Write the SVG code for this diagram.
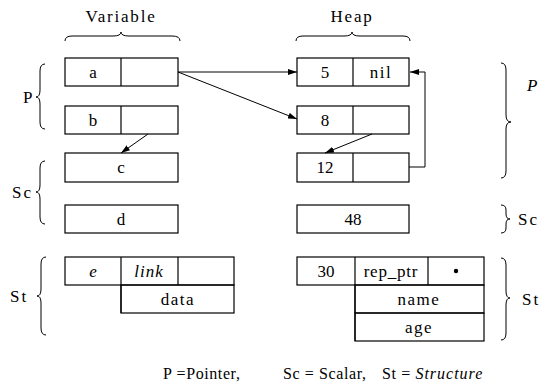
<svg xmlns="http://www.w3.org/2000/svg" width="553" height="388" viewBox="0 0 553 388">
<defs>
<style>
.b{fill:none;stroke:#000;stroke-width:1.2}
.t{font-family:"Liberation Serif","Times New Roman",serif;font-size:17px;fill:#000;text-anchor:middle}
.l{font-family:"Liberation Serif","Times New Roman",serif;font-size:17px;fill:#000}
.f{font-family:"Liberation Serif","Times New Roman",serif;font-size:16px;fill:#000;letter-spacing:0.6px}
.br{fill:none;stroke:#000;stroke-width:1}
.c{fill:none;stroke:#000;stroke-width:1}
</style>
<marker id="ah" markerWidth="9" markerHeight="6" refX="9" refY="3" orient="auto" markerUnits="userSpaceOnUse">
<path d="M0,0 L9,3 L0,6 Z" fill="#000"/>
</marker>
</defs>
<rect width="553" height="388" fill="#fff"/>

<g id="title-variable">
<text class="t" x="121" y="22" letter-spacing="1.8">Variable</text>
<path class="br" d="M65,41 Q65,36 72,36 L113,36 Q121,36 121,32 Q121,36 129,36 L172,36 Q180,36 180,41"/>
</g>
<g id="title-heap">
<text class="t" x="352" y="22" letter-spacing="1.8">Heap</text>
<path class="br" d="M296,41 Q296,36 303,36 L344,36 Q352,36 352,32 Q352,36 360,36 L403,36 Q410,36 410,41"/>
</g>

<g id="var-a">
<rect class="b" x="65" y="58" width="113" height="28"/>
<line class="b" x1="121" y1="58" x2="121" y2="86"/>
<text class="t" x="93" y="78">a</text>
</g>
<g id="var-b">
<rect class="b" x="65" y="106" width="113" height="28"/>
<line class="b" x1="121" y1="106" x2="121" y2="134"/>
<text class="t" x="93" y="126">b</text>
</g>
<g id="var-c">
<rect class="b" x="65" y="153" width="113" height="29"/>
<text class="t" x="121" y="173">c</text>
</g>
<g id="var-d">
<rect class="b" x="65" y="205" width="113" height="28"/>
<text class="t" x="121" y="225">d</text>
</g>
<g id="var-e">
<rect class="b" x="65" y="257" width="169" height="28"/>
<line class="b" x1="121" y1="257" x2="121" y2="313"/>
<line class="b" x1="178" y1="257" x2="178" y2="285"/>
<rect class="b" x="121" y="285" width="113" height="28"/>
<text class="t" x="93" y="277" font-style="italic">e</text>
<text class="t" x="149" y="277" font-style="italic" letter-spacing="1">link</text>
<text class="t" x="178" y="305" letter-spacing="1.5">data</text>
</g>

<g id="heap-5">
<rect class="b" x="297" y="58" width="112" height="28"/>
<line class="b" x1="353" y1="58" x2="353" y2="86"/>
<text class="t" x="325" y="78">5</text>
<text class="t" x="381" y="78" letter-spacing="1.5">nil</text>
</g>
<g id="heap-8">
<rect class="b" x="297" y="106" width="112" height="28"/>
<line class="b" x1="353" y1="106" x2="353" y2="134"/>
<text class="t" x="325" y="126">8</text>
</g>
<g id="heap-12">
<rect class="b" x="297" y="153" width="112" height="29"/>
<line class="b" x1="353" y1="153" x2="353" y2="182"/>
<text class="t" x="325" y="173">12</text>
</g>
<g id="heap-48">
<rect class="b" x="297" y="205" width="112" height="28"/>
<text class="t" x="353" y="225">48</text>
</g>
<g id="heap-30">
<rect class="b" x="297" y="257" width="187" height="28"/>
<line class="b" x1="355" y1="257" x2="355" y2="341"/>
<line class="b" x1="428" y1="257" x2="428" y2="285"/>
<rect class="b" x="355" y="285" width="129" height="28"/>
<rect class="b" x="355" y="313" width="129" height="28"/>
<text class="t" x="326" y="277">30</text>
<text class="t" x="391" y="277" letter-spacing="0.8">rep_ptr</text>
<circle cx="456" cy="271" r="2.2" fill="#000"/>
<text class="t" x="419" y="305" letter-spacing="1.5">name</text>
<text class="t" x="419" y="333" letter-spacing="1.5">age</text>
</g>

<g id="connectors">
<line class="c" x1="178" y1="72" x2="297" y2="72" marker-end="url(#ah)"/>
<line class="c" x1="178" y1="72" x2="297" y2="119" marker-end="url(#ah)"/>
<line class="c" x1="148" y1="134" x2="121" y2="153" marker-end="url(#ah)"/>
<line class="c" x1="372" y1="134" x2="325" y2="153" marker-end="url(#ah)"/>
<polyline class="c" points="409,167 425,167 425,72 410,72" marker-end="url(#ah)"/>
</g>

<g id="brace-left-P">
<text class="l" x="23" y="103">P</text>
<path class="br" d="M45,64 Q40,64 40,71 L40,90 Q40,97 36,97 Q40,97 40,104 L40,122 Q40,129 45,129"/>
</g>
<g id="brace-left-Sc">
<text class="l" x="12" y="198" letter-spacing="2">Sc</text>
<path class="br" d="M45,161 Q40,161 40,168 L40,185 Q40,192 36,192 Q40,192 40,199 L40,217 Q40,224 45,224"/>
</g>
<g id="brace-left-St">
<text class="l" x="10" y="302" letter-spacing="2">St</text>
<path class="br" d="M46,257 Q41,257 41,264 L41,289 Q41,296 37,296 Q41,296 41,303 L41,328 Q41,335 46,335"/>
</g>
<g id="brace-right-P">
<text class="l" x="527" y="91" font-style="italic">P</text>
<path class="br" d="M501,63 Q506,63 506,70 L506,115 Q506,122 511,122 Q506,122 506,129 L506,171 Q506,178 501,178"/>
</g>
<g id="brace-right-Sc">
<text class="l" x="518" y="225" letter-spacing="2">Sc</text>
<path class="br" d="M501,205 Q506,205 506,210 L506,214 Q506,219 510,219 Q506,219 506,224 L506,228 Q506,233 501,233"/>
</g>
<g id="brace-right-St">
<text class="l" x="522" y="305" letter-spacing="2">St</text>
<path class="br" d="M501,258 Q506,258 506,265 L506,291 Q506,298 510,298 Q506,298 506,305 L506,333 Q506,340 501,340"/>
</g>

<g id="legend">
<text class="f" x="163" y="379">P =Pointer,</text>
<text class="f" x="283" y="379">Sc = Scalar,</text>
<text class="f" x="382" y="379">St = <tspan font-style="italic" letter-spacing="1">Structure</tspan></text>
</g>
</svg>
